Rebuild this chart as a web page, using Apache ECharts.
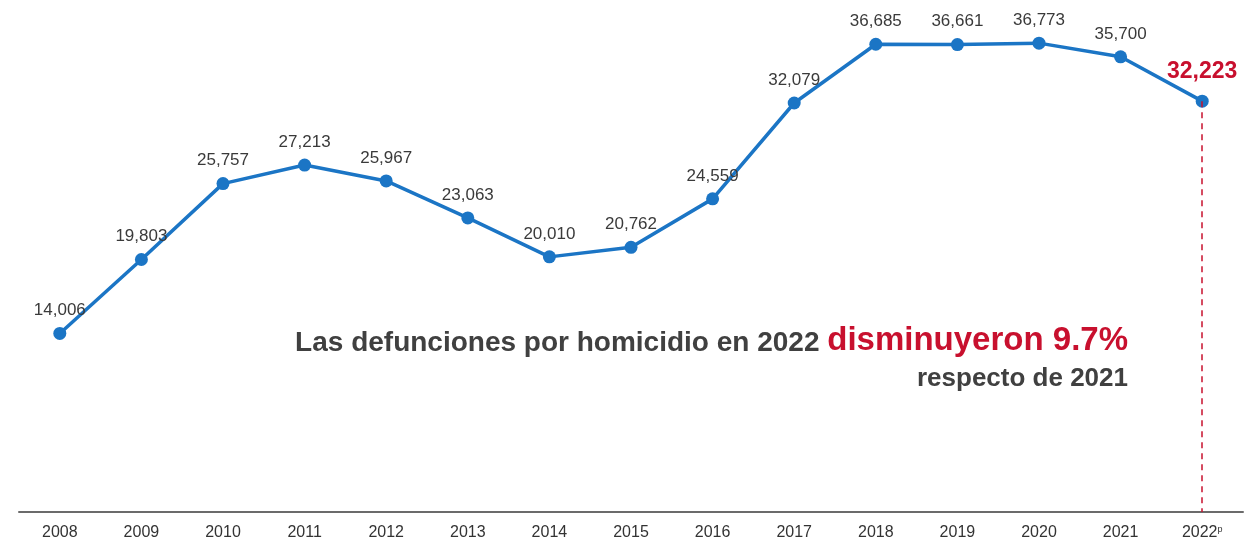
<!DOCTYPE html>
<html>
<head>
<meta charset="utf-8">
<script src="https://cdn.jsdelivr.net/npm/echarts@6/dist/echarts.min.js"></script>
<style>
  html, body { margin: 0; padding: 0; background: #fff; }
  #chart { width: 1258px; height: 544px; }
</style>
</head>
<body>
<div id="chart"></div>
<script>
	"use strict";

	var years = ['2008', '2009', '2010', '2011', '2012', '2013', '2014', '2015', '2016', '2017', '2018', '2019', '2020', '2021', '2022p'];
	var homicidios = [14006, 19803, 25757, 27213, 25967, 23063, 20010, 20762, 24559, 32079, 36685, 36661, 36773, 35700, 32223];

	var blue = '#1b75c5';
	var red = '#c8102e';

	var seriesData = homicidios.map(function (v, i) {
		if (i === homicidios.length - 1) {
			return {
				value: v,
				label: { color: red, fontSize: 23, fontWeight: 'bold', distance: 12 }
			};
		}
		return v;
	});

	var chart = echarts.init(document.getElementById('chart'));
	chart.setOption({
		animation: false,
		grid: { left: 19, right: 15, top: 2, bottom: 32 },
		xAxis: {
			type: 'category',
			data: years,
			boundaryGap: true,
			axisLine: { lineStyle: { color: '#6b6b6b', width: 2 } },
			axisTick: { show: false },
			axisLabel: {
				interval: 0,
				margin: 13,
				fontSize: 16,
				color: '#333',
				fontFamily: 'Liberation Sans',
				formatter: function (v) {
					if (v.slice(-1) === 'p') return v.slice(0, -1) + '{sup|p}';
					return v;
				},
				rich: { sup: { fontSize: 9, color: '#333', verticalAlign: 'top', padding: [0, 0, 4, 0] } }
			}
		},
		yAxis: {
			type: 'value',
			min: 0,
			max: 40000,
			show: false
		},
		series: [{
			type: 'line',
			data: seriesData,
			symbol: 'circle',
			symbolSize: 13,
			itemStyle: { color: blue },
			lineStyle: { color: blue, width: 3.5 },
			label: {
				show: true,
				position: 'top',
				distance: 8,
				fontSize: 17,
				color: '#3a3a3a',
				fontFamily: 'Liberation Sans',
				formatter: function (p) { return p.value.toLocaleString('en-US'); }
			},
			markLine: {
				silent: true,
				symbol: 'none',
				label: { show: false },
				lineStyle: { color: red, type: [6, 5], width: 1.5 },
				data: [[
					{ coord: ['2022p', homicidios[homicidios.length - 1]] },
					{ coord: ['2022p', 0] }
				]]
			}
		}],
		graphic: [
			{
				type: 'text',
				right: 130,
				top: 324,
				style: {
					text: '{a|Las defunciones por homicidio en 2022 }{b|disminuyeron 9.7%}',
					rich: {
						a: { fontSize: 28, fontWeight: 'bold', fill: '#404040', fontFamily: 'Liberation Sans', verticalAlign: 'bottom' },
						b: { fontSize: 33, fontWeight: 'bold', fill: red, fontFamily: 'Liberation Sans', verticalAlign: 'bottom' }
					}
				}
			},
			{
				type: 'text',
				right: 130,
				top: 366,
				style: {
					text: 'respecto de 2021',
					fontSize: 26,
					fontWeight: 'bold',
					fill: '#404040',
					fontFamily: 'Liberation Sans'
				}
			}
		]
	});
</script>
</body>
</html>
